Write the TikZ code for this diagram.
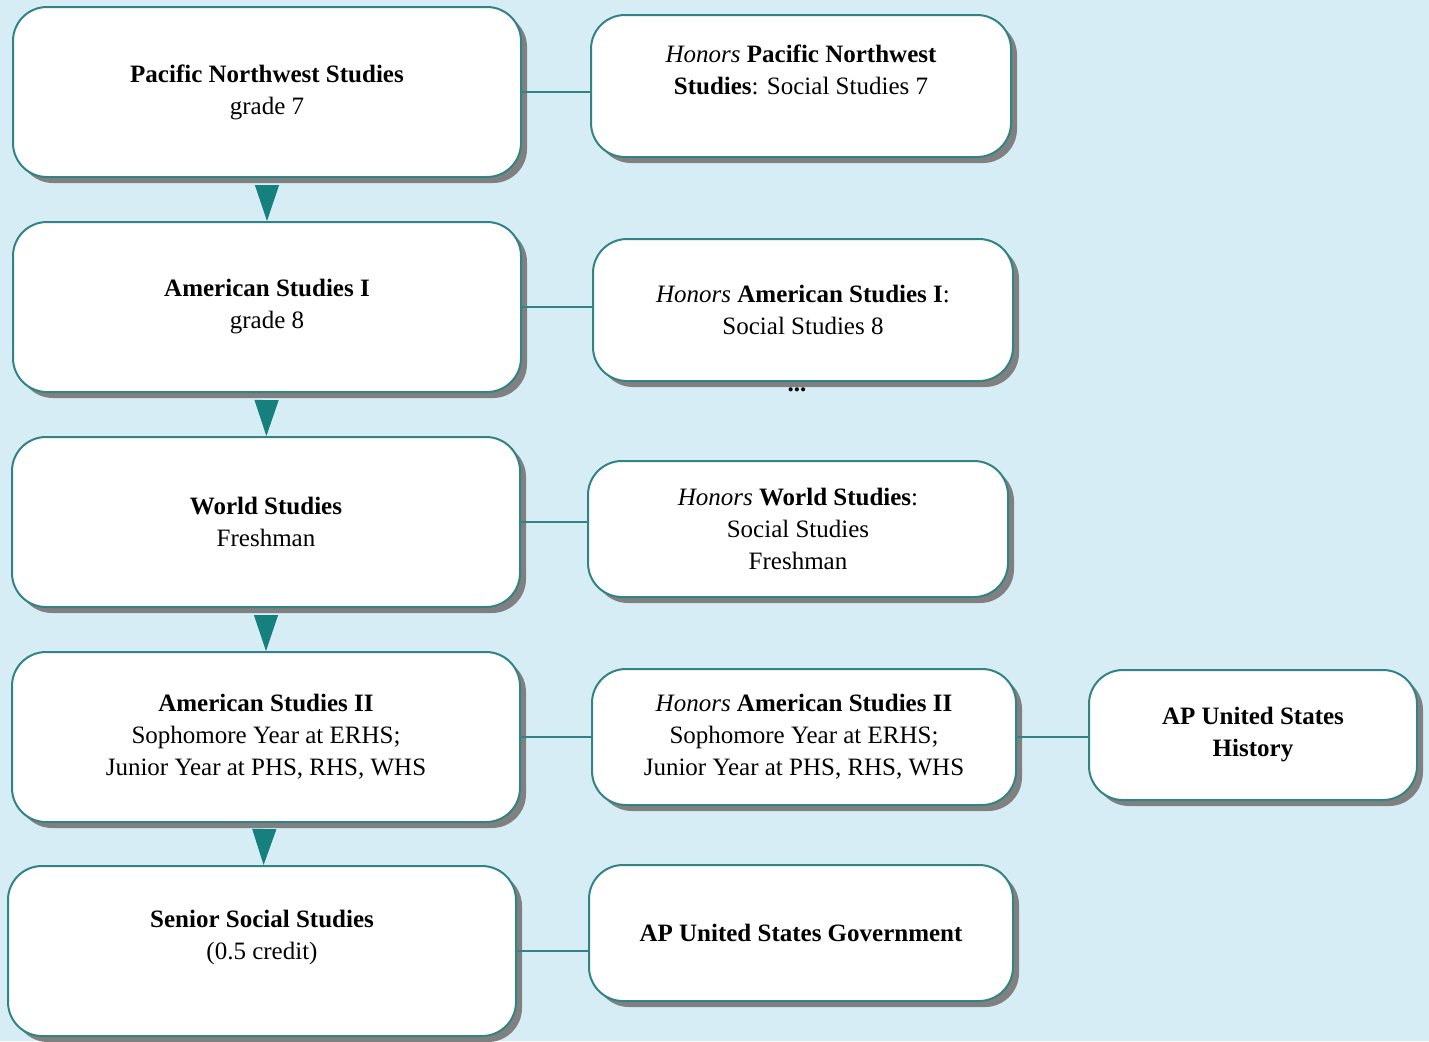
\documentclass[tikz,border=0pt]{standalone}
\usepackage{fontspec}
\setmainfont{Liberation Serif}
\usetikzlibrary{shadows,arrows.meta}
\definecolor{bgblue}{RGB}{214,237,245}
\definecolor{tealline}{RGB}{50,132,132}
\definecolor{tealfill}{RGB}{22,128,126}

\begin{document}
\begin{tikzpicture}[x=0.5pt,y=-0.5pt,
  course/.style={draw=tealline,line width=1pt,fill=white,rounded corners=17pt,align=center,
    font=\fontsize{12.5}{16}\selectfont,
    drop shadow={shadow xshift=3pt,shadow yshift=-3pt,fill=black!50,opacity=1}},
  core/.style={course,minimum width=254pt,minimum height=85pt},
  honors/.style={course,minimum width=210pt,minimum height=68pt},
  next/.style={draw=tealfill,line width=0.5pt,shorten <=4pt,-{Triangle[length=18pt,width=12pt]}},
  link/.style={draw=tealline,line width=1pt}]

\fill[bgblue] (0,0) rectangle (1429,1041);
\useasboundingbox (0,0) rectangle (1429,1041);

\node[core] (pnw) at (267,92) {\textbf{Pacific Northwest Studies}\\grade 7};
\node[core] (as1) at (267,307) {\textbf{American Studies I}\\grade 8};
\node[core] (ws) at (266,522) {\textbf{World Studies}\\Freshman};
\node[core] (as2) at (266,737) {\textbf{American Studies II}\\Sophomore Year at ERHS;\\Junior Year at PHS, RHS, WHS};
\node[core] (sss) at (262,951) {\textbf{Senior Social Studies}\\(0.5 credit)\\\mbox{}};

\node[honors,minimum height=71pt] (hpnw) at (801,86) {\textit{Honors} \textbf{Pacific Northwest}\\\textbf{Studies}: Social Studies 7\\\mbox{}};
\node[honors,minimum height=71pt] (has1) at (803,310) {\textit{Honors} \textbf{American Studies I}:\\Social Studies 8};
\node[font=\fontsize{12.5}{16}\selectfont\bfseries] (more) at (797,390) {...};
\node[honors] (hws) at (798,529) {\textit{Honors} \textbf{World Studies}:\\Social Studies\\Freshman};
\node[honors,minimum width=212pt] (has2) at (804,737) {\textit{Honors} \textbf{American Studies II}\\Sophomore Year at ERHS;\\Junior Year at PHS, RHS, WHS};
\node[honors,minimum width=212pt] (apgov) at (801,933) {\textbf{AP United States Government}};
\node[course,minimum width=164pt,minimum height=65pt] (apush) at (1253,735) {\textbf{AP United States}\\\textbf{History}};

\draw[next] (pnw) -- (as1);
\draw[next] (as1) -- (ws);
\draw[next] (ws) -- (as2);
\draw[next] (as2) -- (sss);

\draw[link] (pnw.east) -- (pnw.east -| hpnw.west);
\draw[link] (as1.east) -- (as1.east -| has1.west);
\draw[link] (ws.east) -- (ws.east -| hws.west);
\draw[link] (as2.east) -- (as2.east -| has2.west);
\draw[link] (sss.east) -- (sss.east -| apgov.west);
\draw[link] (has2.east) -- (has2.east -| apush.west);

\end{tikzpicture}
\end{document}
